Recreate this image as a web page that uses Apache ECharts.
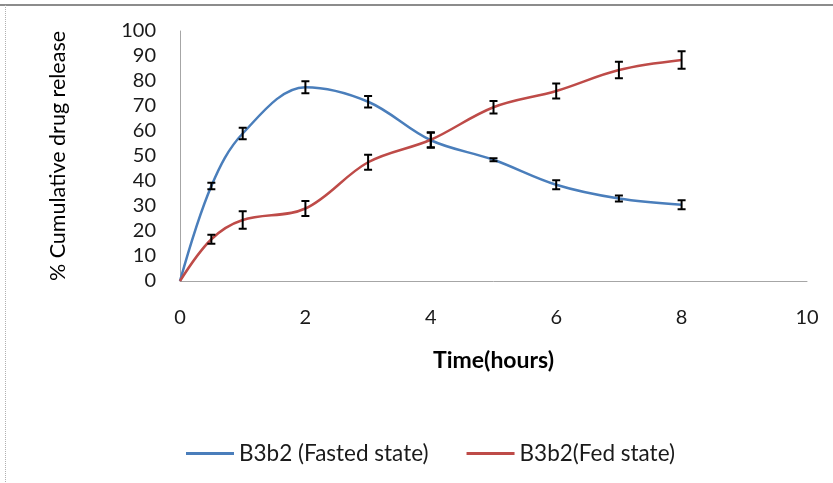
<!DOCTYPE html>
<html><head><meta charset="utf-8">
<script src="https://cdn.jsdelivr.net/npm/echarts@6/dist/echarts.min.js"></script>
<style>html,body{margin:0;padding:0;background:#fff}#c{width:833px;height:483px}</style>
</head><body><div id="c"></div>
<script>
var timeHours = [0, 0.5, 1, 2, 3, 4, 5, 6, 7, 8];
var fastedValues = [0, 38, 59, 77.5, 71.7, 56.3, 48.5, 38.5, 33, 30.5];
var fastedErrors = [0, 1.3, 2.3, 2.4, 2.3, 3, 0.6, 1.8, 1.2, 1.8];
var fedValues = [0, 16.7, 24.4, 29, 47.5, 56.5, 69.5, 76, 84.4, 88.4];
var fedErrors = [0, 1.8, 3.5, 3, 3, 3, 2.5, 3, 3.3, 3.5];
var xTicks = [0, 2, 4, 6, 8, 10];
var yTicks = [0, 10, 20, 30, 40, 50, 60, 70, 80, 90, 100];
var seriesNames = ['B3b2 (Fasted state)', 'B3b2(Fed state)'];
var colors = ['#4a7ebb', '#be4b48'];

function pairs(xs, ys){ return xs.map(function(x,i){return [x, ys[i]];}); }
function errData(xs, ys, es){
  var out = [];
  xs.forEach(function(x,i){ if (es[i] > 0) out.push([x, ys[i]-es[i], ys[i]+es[i]]); });
  return out;
}
function errSeries(data){
  return {
    type: 'custom', silent: true, z: 5,
    renderItem: function(params, api){
      var x = api.value(0), lo = api.value(1), hi = api.value(2);
      var p1 = api.coord([x, lo]), p2 = api.coord([x, hi]);
      var w = 4;
      var st = {stroke: '#000', lineWidth: 2};
      return {type: 'group', children: [
        {type:'line', shape:{x1:p1[0],y1:p1[1],x2:p2[0],y2:p2[1]}, style: st},
        {type:'line', shape:{x1:p1[0]-w,y1:p1[1],x2:p1[0]+w,y2:p1[1]}, style: st},
        {type:'line', shape:{x1:p2[0]-w,y1:p2[1],x2:p2[0]+w,y2:p2[1]}, style: st}
      ]};
    },
    data: data
  };
}
var FONT = 'Lato, "Open Sans", sans-serif';
var chart = echarts.init(document.getElementById('c'));
chart.setOption({
  animation: false,
  grid: {left: 180, right: 26, top: 31, bottom: 202},
  graphic: [
    {type:'line', shape:{x1:0,y1:5,x2:833,y2:5}, style:{stroke:'#8c8c8c', lineWidth:2}},
    {type:'line', shape:{x1:5.5,y1:5,x2:5.5,y2:483}, style:{stroke:'#b0b0b0', lineWidth:1, lineDash:[1,1]}}
  ],
  legend: {
    top: 437, left: 181,
    itemWidth: 48, itemHeight: 3, itemGap: 38,
    icon: 'rect',
    textStyle: {fontFamily: FONT, fontSize: 22.5, color: '#1a1a1a'},
    data: seriesNames
  },
  xAxis: {
    type: 'value', min: 0, max: 10, interval: 2,
    name: 'Time(hours)', nameLocation: 'middle', nameGap: 68,
    nameTextStyle: {fontFamily: FONT, fontSize: 23, fontWeight: 'bold', color: '#000'},
    axisLine: {lineStyle: {color: '#a6a6a6', width: 1}},
    axisTick: {show: false},
    splitLine: {show: false},
    axisLabel: {fontFamily: FONT, fontSize: 20, color: '#1a1a1a', margin: 27,
      formatter: function(v){ return xTicks.indexOf(v) >= 0 ? String(v) : ''; }}
  },
  yAxis: {
    type: 'value', min: 0, max: 100, interval: 10,
    name: '% Cumulative drug release', nameLocation: 'middle', nameGap: 111,
    nameTextStyle: {fontFamily: FONT, fontSize: 21.5, color: '#000'},
    axisLine: {show: true, lineStyle: {color: '#a6a6a6', width: 1}},
    axisTick: {show: false},
    splitLine: {show: false},
    axisLabel: {fontFamily: FONT, fontSize: 20, color: '#1a1a1a', margin: 24,
      formatter: function(v){ return yTicks.indexOf(v) >= 0 ? String(v) : ''; }}
  },
  series: [
    {name: seriesNames[0], type: 'line', smooth: 0.35, symbol: 'none',
     lineStyle: {color: colors[0], width: 2.5}, itemStyle: {color: colors[0]},
     data: pairs(timeHours, fastedValues)},
    {name: seriesNames[1], type: 'line', smooth: 0.35, symbol: 'none',
     lineStyle: {color: colors[1], width: 2.5}, itemStyle: {color: colors[1]},
     data: pairs(timeHours, fedValues)},
    errSeries(errData(timeHours, fastedValues, fastedErrors)),
    errSeries(errData(timeHours, fedValues, fedErrors))
  ]
});
</script></body></html>
